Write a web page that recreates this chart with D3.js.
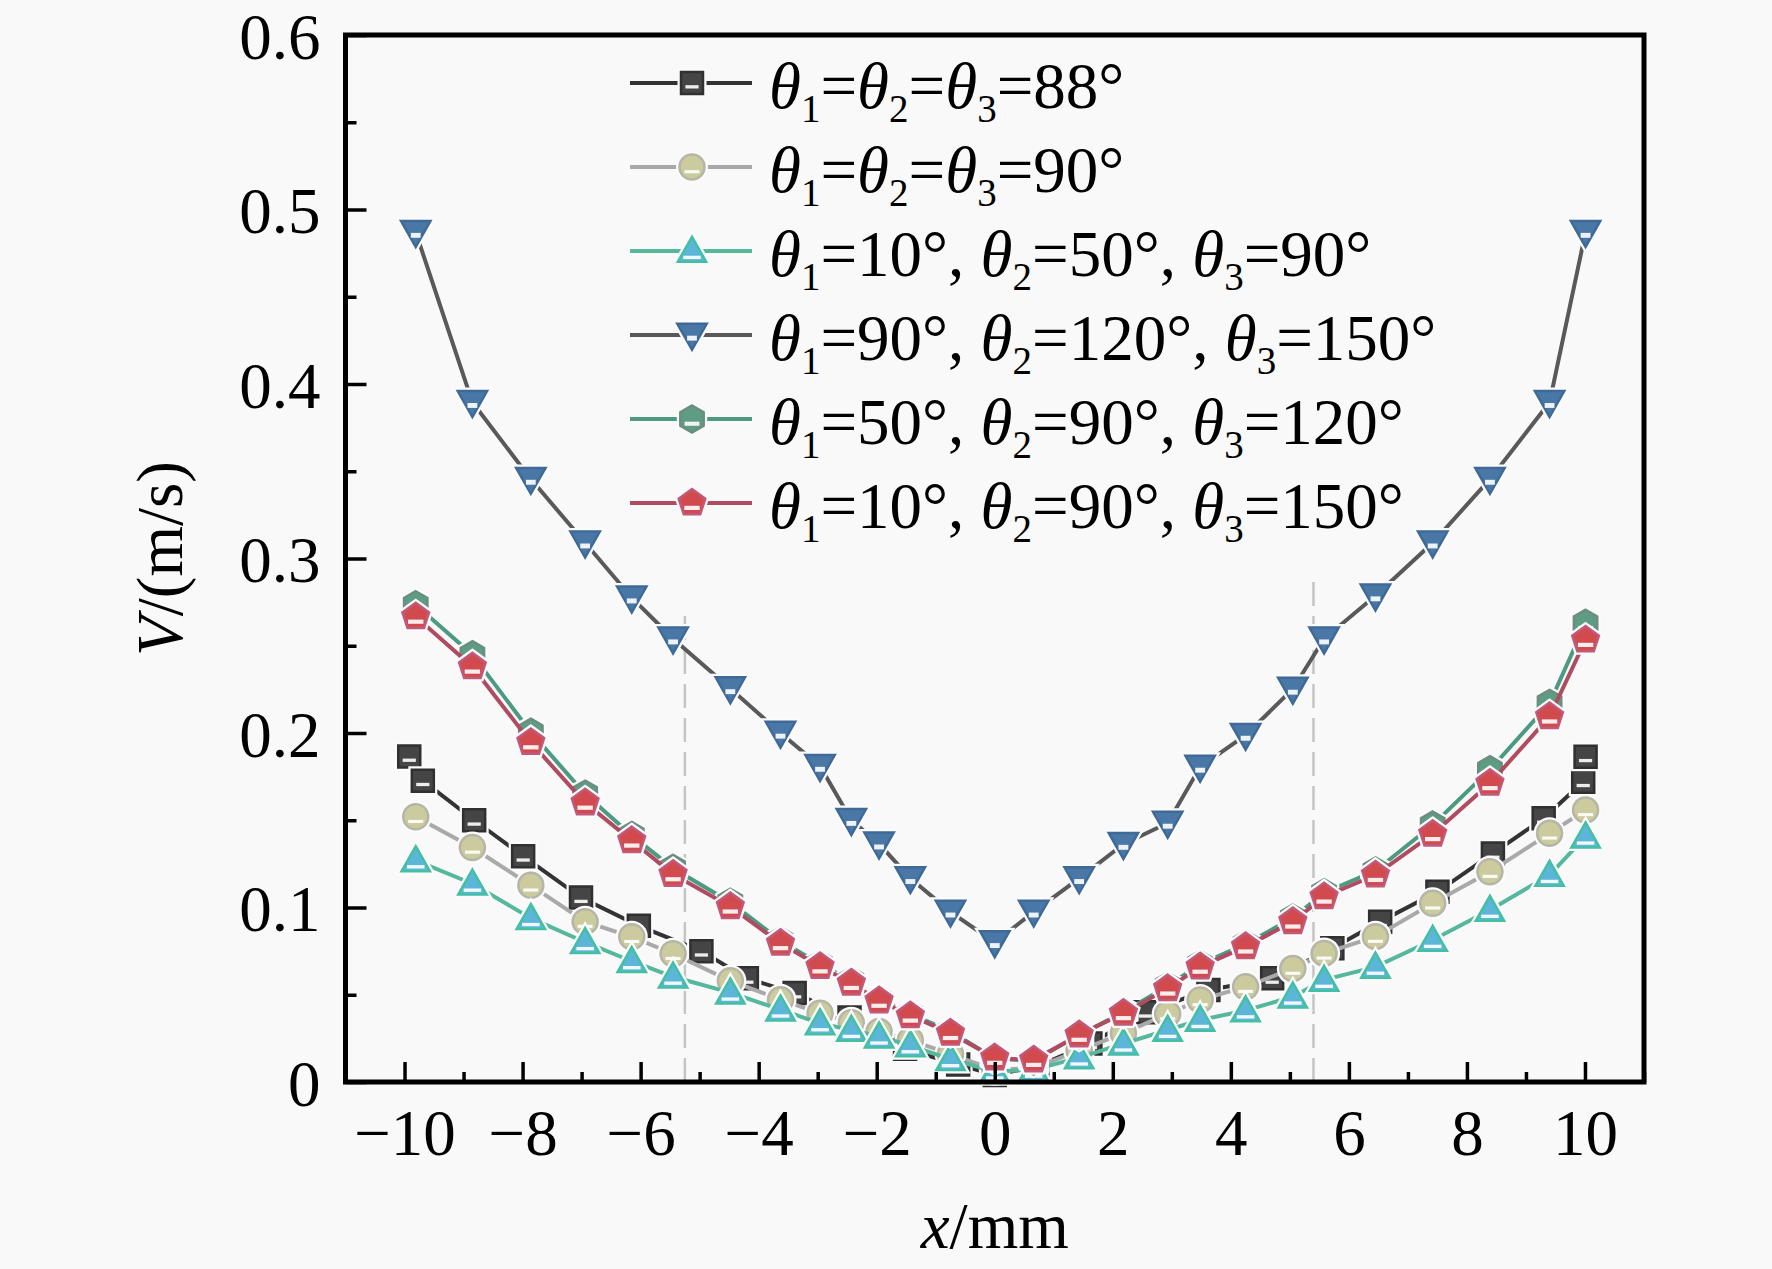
<!DOCTYPE html>
<html>
<head>
<meta charset="utf-8">
<script src="https://cdn.jsdelivr.net/npm/d3@7"></script>
<style>
  body { margin: 0; background: #f9f9f9; }
  text { font-family: "Liberation Serif", "Times New Roman", serif; fill: #000; }
</style>
</head>
<body>
<div id="chart"></div>
<script>
// svg definitions
let svgWidth = 1772;
let svgHeight = 1269;

// plot frame inside the svg
let frame = { left: 345.5, right: 1644, top: 35, bottom: 1082 };

// x positions of the sampled points (mm)
let xGrid = [-9.81, -8.85, -7.86, -6.94, -6.15, -5.45, -4.48, -3.63, -2.96, -2.43, -1.96, -1.43, -0.75, 0,
  0.66, 1.43, 2.18, 2.93, 3.48, 4.25, 5.05, 5.58, 6.45, 7.42, 8.39, 9.40, 10.01];
let xGrid88 = [-9.92, -9.69, -8.82, -7.99, -7.01, -6.03, -4.97, -4.20, -3.39, -2.46, -1.52, -0.62, 0,
  0.72, 1.62, 2.55, 3.62, 4.70, 5.72, 6.53, 7.50, 8.44, 9.30, 9.97, 10.01];

// velocities (m/s)
let v88 = [0.1866, 0.1727, 0.150, 0.1294, 0.1057, 0.0895, 0.075, 0.0594, 0.051, 0.037, 0.019, 0.010, 0.004,
  0.009, 0.022, 0.040, 0.0527, 0.0594, 0.0766, 0.0919, 0.109, 0.131, 0.1511, 0.1721, 0.1864];
let v90 = [0.152, 0.1344, 0.1127, 0.0919, 0.0832, 0.0735, 0.058, 0.0472, 0.0394, 0.034, 0.029, 0.024, 0.016, 0.007,
  0.008, 0.018, 0.028, 0.039, 0.047, 0.0546, 0.065, 0.0737, 0.0833, 0.1024, 0.1205, 0.1425, 0.1559];
let v10_50_90 = [0.127, 0.1136, 0.0939, 0.0801, 0.0692, 0.0603, 0.0512, 0.0415, 0.0336, 0.0298, 0.026, 0.021, 0.013, 0.006,
  0.007, 0.014, 0.022, 0.0298, 0.0355, 0.041, 0.0489, 0.0585, 0.066, 0.0814, 0.0986, 0.1186, 0.1406];
let v90_120_150 = [0.487, 0.3895, 0.3455, 0.309, 0.2775, 0.254, 0.2255, 0.200, 0.181, 0.150, 0.1365, 0.1167, 0.0975, 0.080,
  0.0975, 0.1167, 0.1363, 0.1484, 0.1805, 0.1988, 0.2252, 0.254, 0.2787, 0.309, 0.3455, 0.3895, 0.487];
let v50_90_120 = [0.2735, 0.2449, 0.2005, 0.165, 0.1413, 0.1225, 0.103, 0.081, 0.0675, 0.058, 0.0475, 0.039, 0.029, 0.0135,
  0.012, 0.027, 0.040, 0.055, 0.0675, 0.079, 0.094, 0.1085, 0.121, 0.1473, 0.179, 0.217, 0.2629];
let v10_90_150 = [0.2666, 0.238, 0.1946, 0.160, 0.1383, 0.1190, 0.1005, 0.0795, 0.0662, 0.0567, 0.0465, 0.038, 0.028, 0.0138,
  0.0126, 0.027, 0.0394, 0.0535, 0.066, 0.0776, 0.0919, 0.1062, 0.1186, 0.142, 0.1712, 0.2094, 0.2533];

// legend labels: "θ" is italic, "_n" a subscript
let seriesLabels = [
  'θ_1=θ_2=θ_3=88°',
  'θ_1=θ_2=θ_3=90°',
  'θ_1=10°, θ_2=50°, θ_3=90°',
  'θ_1=90°, θ_2=120°, θ_3=150°',
  'θ_1=50°, θ_2=90°, θ_3=120°',
  'θ_1=10°, θ_2=90°, θ_3=150°'
];

// axis ticks
let xTicks = [-10, -8, -6, -4, -2, 0, 2, 4, 6, 8, 10];
let xTickLabels = ['\u221210', '\u22128', '\u22126', '\u22124', '\u22122', '0', '2', '4', '6', '8', '10'];
let xMinor = [-11, -9, -7, -5, -3, -1, 1, 3, 5, 7, 9, 11];
let yTicks = [0, 0.1, 0.2, 0.3, 0.4, 0.5, 0.6];
let yTickLabels = ['0', '0.1', '0.2', '0.3', '0.4', '0.5', '0.6'];
let yMinor = [0.05, 0.15, 0.25, 0.35, 0.45, 0.55];

// dashed guide lines: x position and top value
let guideX = [-5.25, 5.4];
let guideTop = [0.268, 0.29];

// custom marker shapes, r = sqrt(size)
function polygon(pts) {
  return { draw: function(ctx, size) {
    let r = Math.sqrt(size);
    pts.forEach((p, i) => i ? ctx.lineTo(p[0] * r, p[1] * r) : ctx.moveTo(p[0] * r, p[1] * r));
    ctx.closePath();
  } };
}
function regular(n) {
  let pts = d3.range(n).map(i => {
    let a = -Math.PI / 2 + i * 2 * Math.PI / n;
    return [Math.cos(a), Math.sin(a)];
  });
  return polygon(pts);
}
let shapes = {
  square: polygon([[-1, -1], [1, -1], [1, 1], [-1, 1]]),
  circle: d3.symbolCircle,
  triUp: polygon([[0, -1.05], [1.05, 0.8], [-1.05, 0.8]]),
  triDown: polygon([[-1.05, -0.8], [1.05, -0.8], [0, 1.05]]),
  hexagon: regular(6),
  pentagon: regular(5)
};

let series = [
  { x: xGrid88, v: v88, shape: 'square', r: 11, fill: '#454545', stroke: '#303030', line: '#333333', band: [0.2, 0.5, 0.6] },
  { x: xGrid, v: v90, shape: 'circle', r: 12.5, fill: '#cbcb9e', stroke: '#b5b5a8', line: '#a9a9a9', band: [0.25, 0.5, 0.6] },
  { x: xGrid, v: v10_50_90, shape: 'triUp', r: 13.5, fill: '#5bb6d9', stroke: '#45bfa2', line: '#55b89c', band: [0.35, 0.6, 0.65] },
  { x: xGrid, v: v90_120_150, shape: 'triDown', r: 14, fill: '#4a78a6', stroke: '#3f6a98', line: '#595959', band: [0.05, 0.4, 0.35] },
  { x: xGrid, v: v50_90_120, shape: 'hexagon', r: 13.5, fill: '#5f9c84', stroke: '#6a8e80', line: '#4c9a82', band: [0.2, 0.5, 0.55] },
  { x: xGrid, v: v10_90_150, shape: 'pentagon', r: 14, fill: '#d04a4e', stroke: '#c2597a', line: '#b04c62', band: [0.2, 0.5, 0.55] }
];

// scales
let xScale = d3.scaleLinear().domain([-11, 11]).range([frame.left, frame.right]);
let yScale = d3.scaleLinear().domain([0, 0.6]).range([frame.bottom, frame.top]);

let svg = d3.select('#chart').append('svg')
  .attr('width', svgWidth)
  .attr('height', svgHeight);

svg.append('rect')
  .attr('width', svgWidth)
  .attr('height', svgHeight)
  .attr('fill', '#f9f9f9');

// dashed guides
svg.selectAll('.guide')
  .data(guideX)
  .enter()
  .append('line')
  .classed('guide', true)
  .attr('x1', d => xScale(d))
  .attr('x2', d => xScale(d))
  .attr('y1', yScale(0))
  .attr('y2', (d, i) => yScale(guideTop[i]))
  .attr('stroke', '#c4c4c4')
  .attr('stroke-width', 2.5)
  .attr('stroke-dasharray', '24,10');

// draw one marker (halo + shape + white band) into a group
function drawMarker(g, s) {
  let d = d3.symbol().type(shapes[s.shape]).size(s.r * s.r * (s.shape === 'circle' ? Math.PI : 1))();
  g.append('path')
    .attr('d', d)
    .attr('fill', 'none')
    .attr('stroke', '#fbfbfb')
    .attr('stroke-width', 7);
  g.append('path')
    .attr('d', d)
    .attr('fill', s.fill)
    .attr('stroke', s.stroke)
    .attr('stroke-width', 2.5);
  g.append('rect')
    .attr('x', -s.r * s.band[2])
    .attr('y', s.r * s.band[0])
    .attr('width', s.r * s.band[2] * 2)
    .attr('height', s.r * (s.band[1] - s.band[0]))
    .attr('fill', '#ffffff')
    .attr('opacity', 0.9);
}

// lines and markers
let line = d3.line().x(d => xScale(d[0])).y(d => yScale(d[1]));

series.forEach(function(s) {
  let pts = s.x.map((x, i) => [x, s.v[i]]);
  let g = svg.append('g');
  g.append('path')
    .datum(pts)
    .attr('d', line)
    .attr('fill', 'none')
    .attr('stroke', s.line)
    .attr('stroke-width', 4);
  g.selectAll('.mk')
    .data(pts)
    .enter()
    .append('g')
    .classed('mk', true)
    .attr('transform', d => `translate(${xScale(d[0])}, ${yScale(d[1])})`)
    .each(function() { drawMarker(d3.select(this), s); });
});

// axes
let bottomAxis = d3.axisBottom(xScale)
  .tickValues(xTicks)
  .tickSize(-20)
  .tickPadding(27)
  .tickFormat((d, i) => xTickLabels[i]);
let xAxis = svg.append('g')
  .classed('x-axis', true)
  .attr('transform', `translate(0, ${frame.bottom})`)
  .call(bottomAxis);
svg.append('g')
  .attr('transform', `translate(0, ${frame.bottom})`)
  .call(d3.axisBottom(xScale).tickValues(xMinor).tickSize(-10).tickFormat(''))
  .select('.domain').remove();

let leftAxis = d3.axisLeft(yScale)
  .tickValues(yTicks)
  .tickSize(-21)
  .tickPadding(25)
  .tickFormat((d, i) => yTickLabels[i]);
let yAxis = svg.append('g')
  .classed('y-axis', true)
  .attr('transform', `translate(${frame.left}, 0)`)
  .call(leftAxis);
svg.append('g')
  .attr('transform', `translate(${frame.left}, 0)`)
  .call(d3.axisLeft(yScale).tickValues(yMinor).tickSize(-11).tickFormat(''))
  .select('.domain').remove();

svg.selectAll('.x-axis .domain, .y-axis .domain').remove();
svg.selectAll('.tick line').attr('stroke', '#000').attr('stroke-width', 3.5);
svg.selectAll('.x-axis text, .y-axis text')
  .attr('font-family', null)
  .style('font-size', '65px')
  .attr('fill', '#000');
// keep the top label inside the picture
yAxis.selectAll('text').attr('dy', '0.36em');

// frame
svg.append('rect')
  .attr('x', frame.left)
  .attr('y', frame.top)
  .attr('width', frame.right - frame.left)
  .attr('height', frame.bottom - frame.top)
  .attr('fill', 'none')
  .attr('stroke', '#000')
  .attr('stroke-width', 5);

// axis titles
let xTitle = svg.append('text')
  .attr('x', (frame.left + frame.right) / 2)
  .attr('y', 1248)
  .attr('text-anchor', 'middle')
  .style('font-size', '65px');
xTitle.append('tspan').style('font-style', 'italic').text('x');
xTitle.append('tspan').text('/mm');

let yTitle = svg.append('text')
  .attr('transform', `translate(182, ${(frame.top + frame.bottom) / 2}) rotate(-90)`)
  .attr('text-anchor', 'middle')
  .style('font-size', '65px');
yTitle.append('tspan').style('font-style', 'italic').text('V');
yTitle.append('tspan').text('/(m/s)');

// legend
let legendRows = d3.range(series.length).map(i => 83 + i * 84);
series.forEach(function(s, i) {
  let y = legendRows[i];
  let g = svg.append('g').attr('transform', `translate(0, ${y})`);
  g.append('line')
    .attr('x1', 630).attr('x2', 752)
    .attr('stroke', s.line)
    .attr('stroke-width', 4);
  drawMarker(g.append('g').attr('transform', 'translate(692, 0)'), s);

  let t = g.append('text')
    .attr('x', 769)
    .attr('y', 25)
    .style('font-size', '65px');
  // split label into theta, subscripts and plain runs
  let parts = seriesLabels[i].match(/θ|_\d|[^θ_]+/g);
  parts.forEach(function(p) {
    if (p === 'θ') {
      t.append('tspan').style('font-style', 'italic').text('θ');
    } else if (p[0] === '_') {
      t.append('tspan').attr('dy', 14).style('font-size', '39px').text(p.slice(1));
    } else {
      let prev = t.selectAll('tspan').nodes().slice(-1)[0];
      let sub = prev && prev.style.fontSize === '39px';
      t.append('tspan').attr('dy', sub ? -14 : 0).text(p);
    }
  });
});
</script>
</body>
</html>
